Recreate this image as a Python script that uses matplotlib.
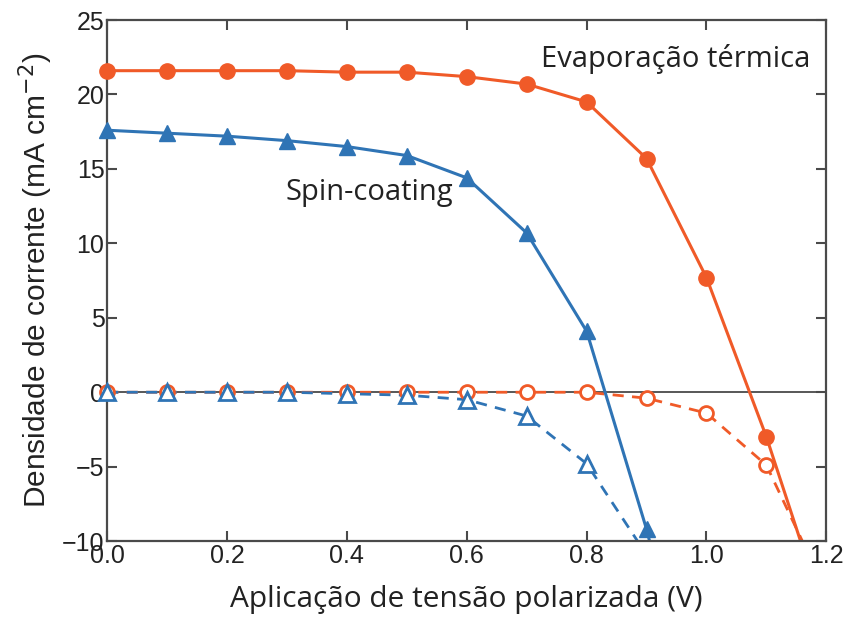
import matplotlib
matplotlib.use("Agg")
import matplotlib.pyplot as plt

# tensão aplicada (V)
voltage = [0.0, 0.1, 0.2, 0.3, 0.4, 0.5, 0.6, 0.7, 0.8, 0.9, 1.0, 1.1]
voltage_spin = [0.0, 0.1, 0.2, 0.3, 0.4, 0.5, 0.6, 0.7, 0.8, 0.9]

# evaporação térmica (círculos)
evap_light = [21.6, 21.6, 21.6, 21.6, 21.5, 21.5, 21.2, 20.7, 19.5, 15.7, 7.7, -3.0]
evap_dark = [0.0, 0.0, 0.0, 0.0, 0.0, 0.0, 0.0, 0.0, 0.0, -0.4, -1.4, -4.9]

# spin-coating (triângulos)
spin_light = [17.6, 17.4, 17.2, 16.9, 16.5, 15.9, 14.4, 10.7, 4.1, -9.2]
spin_dark = [0.0, 0.0, 0.0, 0.0, -0.1, -0.2, -0.5, -1.6, -4.8]

# onde as curvas saem pelo fundo do gráfico
evap_light_end = (1.157, -10.0)
evap_dark_end = (1.16, -10.0)
spin_light_end = (0.905, -10.0)
spin_dark_end = (0.885, -10.0)

orange = "#F05A28"
blue = "#2F74B5"
axis_col = "#4a4a4a"

plt.rcParams["font.family"] = ["Liberation Sans", "DejaVu Sans"]

fig = plt.figure(figsize=(8.51, 6.27), dpi=100)
ax = fig.add_axes([0.126, 0.137, 0.845, 0.831])

ax.axhline(0, color=axis_col, lw=1.3, zorder=1)

# linhas
ax.plot(voltage + [evap_light_end[0]], evap_light + [evap_light_end[1]],
        color=orange, lw=2.2, zorder=2)
ax.plot(voltage + [evap_dark_end[0]], evap_dark + [evap_dark_end[1]],
        color=orange, lw=2.0, ls=(0, (4, 3)), zorder=2)
ax.plot(voltage_spin + [spin_light_end[0]], spin_light + [spin_light_end[1]],
        color=blue, lw=2.2, zorder=2)
ax.plot(voltage_spin[:9] + [spin_dark_end[0]], spin_dark + [spin_dark_end[1]],
        color=blue, lw=2.0, ls=(0, (4, 3)), zorder=2)

# marcadores
ax.plot(voltage, evap_light, "o", ms=11, color=orange, clip_on=False, zorder=4)
ax.plot(voltage, evap_dark, "o", ms=10, mfc="white", mec=orange, mew=2,
        clip_on=False, zorder=3)
ax.plot(voltage_spin, spin_light, "^", ms=12, color=blue, clip_on=False, zorder=4)
ax.plot(voltage_spin[:9], spin_dark, "^", ms=12, mfc="white", mec=blue, mew=2,
        clip_on=False, zorder=3)

ax.set_xlim(0, 1.2)
ax.set_ylim(-10, 25)
ax.set_xticks([0.0, 0.2, 0.4, 0.6, 0.8, 1.0, 1.2])
ax.set_xticklabels(["0.0", "0.2", "0.4", "0.6", "0.8", "1.0", "1.2"])
ax.set_yticks([-10, -5, 0, 5, 10, 15, 20, 25])
ax.set_yticklabels(["\u221210", "\u22125", "0", "5", "10", "15", "20", "25"])

for s in ax.spines.values():
    s.set_color(axis_col)
    s.set_linewidth(1.6)
ax.tick_params(direction="in", length=7, width=1.5, color=axis_col,
               top=True, right=True, labelsize=18, labelcolor="#222222", pad=2)

ax.set_xlabel("Aplicação de tensão polarizada (V)", fontsize=21.5,
              family=["Open Sans", "DejaVu Sans"], color="#222222", labelpad=12)
ax.set_ylabel("Densidade de corrente (mA cm$^{-2}$)", fontsize=21.5,
              color="#222222", labelpad=5)

ax.text(0.948, 22.4, "Evaporação térmica", fontsize=21, ha="center", va="center",
        family=["Open Sans", "DejaVu Sans"], color="#222222")
ax.text(0.437, 13.4, "Spin-coating", fontsize=21, ha="center", va="center",
        family=["Open Sans", "DejaVu Sans"], color="#222222")

fig.savefig("out.png", dpi=100)
